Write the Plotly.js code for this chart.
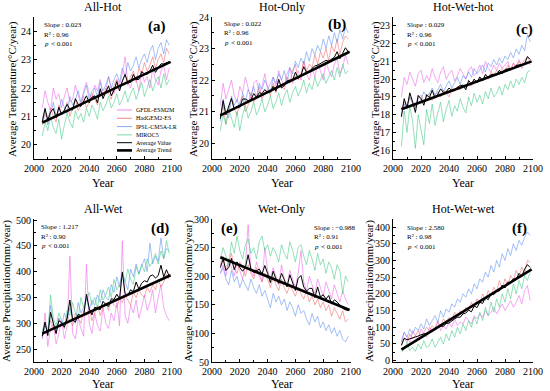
<!DOCTYPE html>
<html><head><meta charset="utf-8">
<script src="https://cdn.plot.ly/plotly-3.0.1.min.js"></script>
<style>html,body{margin:0;padding:0;background:#fff}#chart{width:550px;height:391px}</style>
</head><body><div id="chart"></div>
<script>
// ---------------- DATA ----------------
const years = [2006,2008,2010,2012,2014,2016,2018,2020,2022,2024,2026,2028,2030,2032,2034,2036,2038,2040,2042,2044,2046,2048,2050,2052,2054,2056,2058,2060,2062,2064,2066,2068,2070,2072,2074,2076,2078,2080,2082,2084,2086,2088,2090,2092,2094,2096,2098];
const trendYears = [2006, 2099];
const modelNames = ['GFDL-ESM2M','HadGEM2-ES','IPSL-CM5A-LR','MIROC5'];
const panelTitles = ['All-Hot','Hot-Only','Hot-Wet-hot','All-Wet','Wet-Only','Hot-Wet-wet'];
const panelLabels = ['(a)','(b)','(c)','(d)','(e)','(f)'];
const slopes = ['0.023','0.022','0.029','1.217','\u22120.988','2.580'];
const r2s = ['0.96','0.96','0.96','0.90','0.91','0.98'];

// (a) All-Hot
const aGFDL = [21.3,21.9,21.5,21.2,22.0,21.6,21.8,21.3,21.7,22.0,21.5,21.6,22.1,21.7,21.4,21.9,22.2,21.8,21.6,22.1,21.9,22.3,21.7,21.9,22.4,22.0,21.8,22.3,22.1,22.5,23.1,22.2,22.0,22.5,22.3,21.9,22.6,22.2,22.4,22.0,22.7,22.3,22.1,22.6,22.8,22.3,22.7];
const aHad  = [20.7,21.1,20.8,21.3,21.0,20.8,21.4,21.1,21.2,21.5,21.0,21.3,21.6,21.2,21.4,21.7,21.3,21.5,21.8,21.6,21.4,21.9,21.7,22.0,21.8,21.6,22.1,22.3,21.9,22.2,22.5,22.1,22.4,22.6,22.2,22.7,22.5,22.9,22.6,22.8,23.1,22.7,23.0,23.2,22.9,23.4,23.2];
const aIPSL = [20.9,21.3,20.7,21.1,21.5,21.0,21.2,21.6,21.3,21.1,21.7,21.4,21.6,21.9,21.5,21.8,22.1,21.6,21.9,22.0,21.7,22.2,21.9,22.1,22.4,22.0,22.3,22.5,22.2,22.7,22.4,22.9,22.6,22.8,23.1,22.7,23.0,23.2,22.9,23.3,23.5,23.0,23.4,23.6,23.2,23.7,23.5];
const aMIROC= [20.3,20.8,20.5,21.0,20.6,20.4,20.9,20.2,20.7,21.1,20.8,20.6,21.2,20.9,21.1,20.8,21.3,21.0,21.4,21.2,20.9,21.5,21.2,21.4,21.7,21.3,21.5,21.8,21.4,21.6,21.9,21.5,21.8,22.0,21.6,21.9,22.2,21.7,22.0,22.3,21.9,22.2,22.4,22.0,22.5,22.1,22.3];
const aTrend = [20.78, 22.92];

// (b) Hot-Only
const bGFDL = [21.2,21.9,21.4,21.7,22.0,21.5,21.3,21.8,21.6,22.1,21.7,21.4,21.9,22.0,21.6,21.8,22.2,21.7,21.9,22.1,21.8,22.3,22.0,21.8,22.2,22.4,21.9,22.1,22.3,22.0,22.6,22.2,22.0,22.4,22.1,22.5,22.3,22.0,22.6,22.3,22.1,22.5,22.7,22.2,22.4,22.8,22.5];
const bHad  = [20.8,21.2,20.6,21.0,21.4,21.1,20.9,21.3,21.5,21.0,21.2,21.6,21.3,21.5,21.8,21.4,21.6,21.7,21.5,21.9,21.6,22.0,21.8,21.7,22.1,21.9,22.3,22.5,22.0,22.2,22.6,22.3,22.5,22.4,22.8,22.5,22.9,22.7,23.0,22.6,23.1,22.9,23.3,22.8,23.2,23.4,23.3];
const bIPSL = [20.7,21.4,21.0,20.8,21.5,21.2,21.4,21.1,21.6,21.3,21.7,21.5,21.8,21.4,21.9,21.7,22.0,21.8,21.6,22.1,21.9,22.2,22.0,22.3,21.9,22.4,22.2,22.6,22.4,22.7,22.5,22.9,22.6,23.0,22.8,23.1,22.9,23.3,23.0,23.4,23.1,23.5,23.2,23.6,23.3,23.7,23.5];
const bMIROC= [20.4,20.9,20.6,21.1,20.8,20.5,21.0,20.4,20.9,21.2,20.8,21.0,21.3,20.9,21.1,21.4,21.0,21.2,21.5,21.1,21.3,21.6,21.2,21.5,21.7,21.3,21.6,21.8,21.5,21.7,22.0,21.6,21.9,21.7,22.1,21.8,22.0,22.2,21.9,22.1,22.3,22.0,22.4,22.1,22.5,22.2,22.3];
const bTrend = [20.88, 22.90];

// (c) Hot-Wet-hot
const cGFDL = [19.0,20.1,19.7,20.4,20.0,19.6,20.3,20.5,19.8,20.2,19.9,20.6,20.1,19.8,20.4,20.7,20.0,20.3,20.5,19.9,20.2,20.6,20.3,20.0,20.5,20.7,20.2,20.4,20.8,20.3,21.0,20.6,20.4,20.8,20.5,20.9,20.6,20.8,21.0,20.5,20.9,20.7,21.1,20.6,20.9,21.0,20.8];
const cHad  = [18.3,18.7,18.5,19.0,18.6,18.4,18.9,19.1,18.7,19.0,19.2,18.8,19.1,19.3,19.0,19.4,19.2,19.0,19.5,19.3,19.6,19.4,19.7,19.5,19.8,19.6,20.0,19.8,20.1,19.9,20.3,20.0,20.4,20.2,20.5,20.3,20.6,20.4,20.8,20.5,20.9,20.7,21.0,20.8,21.1,21.2,21.0];
const cIPSL = [18.0,18.6,18.3,19.0,18.7,18.4,19.1,18.8,19.3,19.0,19.2,19.5,19.1,19.4,19.7,19.3,19.6,19.9,19.5,19.8,20.1,19.7,20.2,20.0,20.4,20.1,20.6,20.3,20.5,20.8,20.4,20.9,20.7,21.1,20.8,21.2,20.9,21.3,21.1,21.5,21.2,21.7,21.4,21.9,21.6,22.5,22.1];
const cMIROC= [16.2,18.2,17.0,18.5,17.6,16.1,18.0,17.2,16.3,18.3,17.5,18.6,17.4,18.1,18.7,17.6,18.3,18.8,17.9,18.5,18.2,18.9,18.4,18.1,19.0,18.5,19.2,18.7,19.1,18.6,19.3,18.9,19.5,19.0,19.2,19.6,19.1,19.7,19.4,19.9,19.5,20.0,19.7,20.1,19.8,20.4,20.5];
const cTrend = [18.30, 21.00];

// (d) All-Wet
const dGFDL = [270,320,255,290,300,260,280,305,270,295,430,280,270,310,290,275,415,300,280,320,295,285,330,300,290,320,305,340,295,460,315,300,335,320,345,310,330,355,325,340,365,320,350,375,330,315,305];
const dHad  = [275,295,285,305,290,280,310,300,290,315,305,295,320,310,300,325,315,330,305,320,335,315,330,340,325,345,335,330,350,340,355,345,335,360,350,365,355,350,370,360,375,365,385,370,380,395,385];
const dIPSL = [270,295,285,335,300,285,310,295,320,305,330,310,300,340,320,330,350,325,345,335,355,340,365,350,345,375,360,390,370,400,380,365,405,390,415,395,410,425,400,455,415,430,420,465,425,445,440];
const dMIROC= [285,300,280,355,310,295,320,305,290,325,315,340,320,310,350,330,345,360,335,350,330,365,345,355,370,350,385,365,375,395,380,405,385,375,410,395,415,400,425,410,420,435,415,440,425,460,435];
const dTrend = [280, 393];

// (e) Wet-Only
const eGFDL = [205,220,200,230,215,200,225,210,195,220,290,210,200,225,205,190,250,210,195,215,200,185,220,195,185,210,195,180,205,245,190,175,200,185,170,195,180,165,190,175,160,185,170,155,175,160,150];
const eHad  = [220,235,210,225,240,215,205,225,215,200,220,205,195,215,200,190,205,195,180,200,185,175,195,180,170,185,175,165,180,170,160,175,155,165,150,160,145,155,140,150,130,145,135,125,140,120,125];
const eIPSL = [205,215,195,185,210,190,200,180,195,185,175,195,180,170,185,165,175,160,145,170,155,165,150,160,140,155,145,130,150,135,140,125,115,135,120,130,110,120,105,115,100,110,95,105,90,85,95];
const eMIROC= [230,250,235,220,260,240,270,245,230,255,265,240,250,230,260,270,245,255,235,250,240,225,255,240,230,260,245,225,250,255,235,220,245,230,210,240,220,230,205,225,215,195,220,210,170,200,190];
const eTrend = [233, 141];

// (f) Hot-Wet-wet
const fGFDL = [60,85,70,55,90,75,65,95,80,70,100,85,95,120,90,105,95,115,100,125,105,115,110,130,120,110,135,125,140,130,150,135,145,160,140,155,170,150,165,180,160,175,195,170,210,225,180];
const fHad  = [45,65,55,80,65,75,90,70,85,100,90,105,95,115,105,125,115,130,120,145,130,150,140,160,150,175,160,185,170,200,180,210,195,220,205,240,215,245,225,255,240,270,250,280,260,300,295];
const fIPSL = [55,85,70,95,80,100,90,110,95,125,105,120,135,115,150,130,155,145,170,160,185,175,200,190,215,200,230,215,245,235,265,250,285,265,300,280,320,300,335,315,350,330,360,345,370,385,375];
const fMIROC= [25,35,55,30,40,28,50,35,60,40,45,65,40,55,70,50,80,60,90,70,100,80,110,90,120,100,130,110,145,120,160,135,175,145,185,160,200,175,215,185,230,200,240,215,255,240,265];
const fTrend = [33, 273];

// ---------------- STYLE ----------------
const FONT = 'Liberation Serif, Times New Roman, serif';
const modelColors = ['rgba(236,110,236,0.6)','rgba(240,100,100,0.55)','rgba(90,140,240,0.55)','rgba(60,200,130,0.55)'];
const legendColors = ['#ee88ee','#f08a8a','#88aaf0','#7fd8aa'];
const W = 550, H = 391;
const px = x => x / W, py = y => 1 - y / H;

const panelModels = [
  [aGFDL,aHad,aIPSL,aMIROC],[bGFDL,bHad,bIPSL,bMIROC],[cGFDL,cHad,cIPSL,cMIROC],
  [dGFDL,dHad,dIPSL,dMIROC],[eGFDL,eHad,eIPSL,eMIROC],[fGFDL,fHad,fIPSL,fMIROC]];
const panelTrends = [aTrend,bTrend,cTrend,dTrend,eTrend,fTrend];

const colX = [[34,172],[212,351],[393,533]];
const rowY = [[17,159],[219,362]];
const yRanges = [[19.5,24.5],[19.5,24.0],[15.5,23.5],[225,502],[50,300],[-4,424]];
const yDticks = [1,1,1,50,50,50];
const yTick0 = [20,20,16,250,50,0];
const yTitleX = [12,193,375,6,188,369];
const labelPos = [[157,27],[337,25],[524,29],[160,228],[230,228],[519,228]];
const statPos = [[42,25],[222,24],[405,25],[39,227],[312,228],[405,228]];

const traces = [];
const layout = {
  width: W, height: H, margin:{l:0,r:0,t:0,b:0},
  paper_bgcolor:'#fff', plot_bgcolor:'#fff', showlegend:false,
  font:{family:FONT, color:'#000', size:10},
  annotations:[], shapes:[]
};

function addText(x, y, text, size, opts) {
  layout.annotations.push(Object.assign({xref:'paper', yref:'paper', x:px(x), y:py(y), text:text,
    showarrow:false, xanchor:'center', yanchor:'middle', font:{family:FONT, size:size, color:'#000'}}, opts || {}));
}

for (let i = 0; i < 6; i++) {
  const col = i % 3, row = Math.floor(i / 3);
  const sfx = i === 0 ? '' : String(i + 1);
  const xref = 'x' + sfx, yref = 'y' + sfx;
  const models = panelModels[i];
  models.forEach((vals, m) => {
    traces.push({type:'scatter', mode:'lines', x:years, y:vals, xaxis:xref, yaxis:yref,
      name:modelNames[m], line:{color:modelColors[m], width:1}, hoverinfo:'skip'});
  });
  const avg = years.map((_, k) => (models[0][k] + models[1][k] + models[2][k] + models[3][k]) / 4);
  traces.push({type:'scatter', mode:'lines', x:years, y:avg, xaxis:xref, yaxis:yref,
    name:'Average Value', line:{color:'#000', width:1}, hoverinfo:'skip'});
  traces.push({type:'scatter', mode:'lines', x:trendYears, y:panelTrends[i], xaxis:xref, yaxis:yref,
    name:'Average Trend', line:{color:'#000', width:2.6}, hoverinfo:'skip'});

  const common = {showline:true, linecolor:'#000', linewidth:1, showgrid:false, zeroline:false,
    ticks:'inside', ticklen:3, tickwidth:1, tickcolor:'#000', mirror:false, fixedrange:true,
    tickfont:{family:FONT, size:10, color:'#000'}};
  layout['xaxis' + sfx] = Object.assign({}, common, {
    domain:[px(colX[col][0]), px(colX[col][1])], anchor:yref, range:[2000,2100],
    tick0:2000, dtick:20,
    minor:{ticks:'inside', ticklen:2, tickcolor:'#000', dtick:10, tick0:2000, showgrid:false}});
  layout['yaxis' + sfx] = Object.assign({}, common, {
    domain:[py(rowY[row][1]), py(rowY[row][0])], anchor:xref, range:yRanges[i],
    tick0:yTick0[i], dtick:yDticks[i],
    minor:{ticks:'inside', ticklen:2, tickcolor:'#000', dtick:yDticks[i] / 2, tick0:yTick0[i], showgrid:false}});

  const cx = (colX[col][0] + colX[col][1]) / 2;
  addText(cx, row ? 209 : 7, panelTitles[i], 12);
  addText(labelPos[i][0], labelPos[i][1], panelLabels[i], 15, {font:{family:FONT, size:15, color:'#000', weight:'bold'}});
  addText(cx, row ? 384 : 183, 'Year', 12);
  addText(yTitleX[i], row ? 291 : 89, row ? 'Average Precipitation(mm/year)' : 'Average Temperature(\u00b0C/year)', 11, {textangle:-90});
  const sx = statPos[i][0], sy = statPos[i][1];
  addText(sx, sy, 'Slope : ' + slopes[i], 7, {xanchor:'left'});
  addText(sx, sy + 9.5, 'R\u00b2 : ' + r2s[i], 7, {xanchor:'left'});
  addText(sx, sy + 19, 'p', 7, {xanchor:'left', font:{family:FONT, size:7, color:'#000', style:'italic'}});
  addText(sx + 6.5, sy + 19, '&lt; 0.001', 7, {xanchor:'left'});
}

// custom legend in panel (a)
const legNames = modelNames.concat(['Average Value','Average Trend']);
const legY = [110,118.3,126.6,134.9,142.7,150.4];
legNames.forEach((n, k) => {
  const color = k < 4 ? legendColors[k] : '#000';
  const width = k === 5 ? 2.6 : 1;
  layout.shapes.push({type:'line', xref:'paper', yref:'paper', x0:px(117), x1:px(132), y0:py(legY[k]), y1:py(legY[k]),
    line:{color:color, width:width}});
  addText(134, legY[k], n, 6, {xanchor:'left'});
});

Plotly.newPlot('chart', traces, layout, {staticPlot:true, displayModeBar:false});
</script>
</body></html>
